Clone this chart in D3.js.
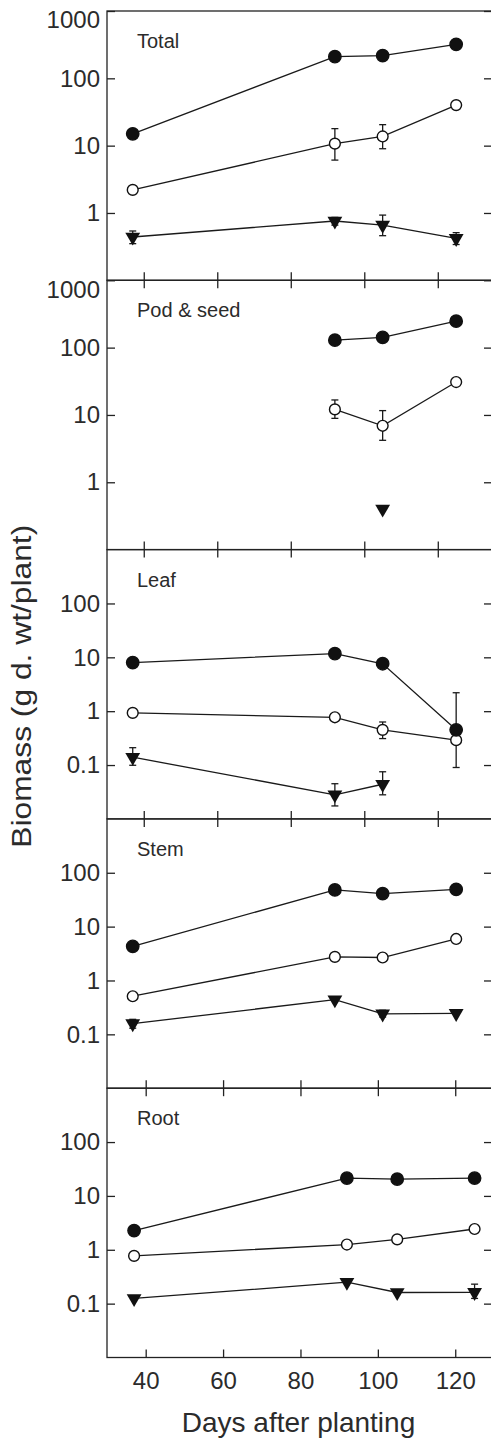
<!DOCTYPE html>
<html>
  <head>
    <meta charset="utf-8">
    <title>Biomass over time</title>
    <style media="screen">
      body {
        margin: 0;
        background: #fff;
      }

      text {
        font-family: "Liberation Sans", Arial, sans-serif;
        font-weight: normal;
        fill: #2b2b2b;
      }

      .frame {
        fill: none;
        stroke: #222;
        stroke-width: 1.3;
      }

      .axis path {
        display: none;
      }

      .axis line {
        stroke: #222;
        stroke-width: 1.3;
      }

      .axis text {
        font-size: 24px;
        fill: #2b2b2b;
      }

      .series {
        fill: none;
        stroke: #1a1a1a;
        stroke-width: 1.3;
      }

      .err line {
        stroke: #1a1a1a;
        stroke-width: 1.3;
      }
    </style>
    <script src="https://cdnjs.cloudflare.com/ajax/libs/d3/7.8.5/d3.min.js"></script>
  </head>
  <body>
    <script type="text/javascript">

      // sampling days (x), same for every panel
      const days = [37, 92, 105, 125];
      const xTicks = [40, 60, 80, 100, 120];
      const yTicksWide = [1, 10, 100, 1000];
      const yTicksNarrow = [0.1, 1, 10, 100];
      const panelNames = ["Total", "Pod & seed", "Leaf", "Stem", "Root"];

      // Total
      const totalFilled = [15, 210, 218, 320];
      const totalOpen = [2.2, 10.7, 13.7, 40];
      const totalOpenErr = [null, [6.1, 17.9], [9.0, 20.5], null];
      const totalTri = [0.44, 0.76, 0.66, 0.42];
      const totalTriErr = [[0.35, 0.54], [0.66, 0.86], [0.46, 0.93], [0.34, 0.51]];

      // Pod & seed
      const podFilled = [null, 129, 142, 247];
      const podOpen = [null, 12.1, 6.9, 30.8];
      const podOpenErr = [null, [8.9, 16.7], [4.2, 11.6], null];
      const podTri = [null, null, 0.40, null];

      // Leaf
      const leafFilled = [8.0, 11.7, 7.6, 0.45];
      const leafFilledErr = [null, null, null, [0.09, 2.2]];
      const leafOpen = [0.93, 0.77, 0.45, 0.29];
      const leafOpenErr = [null, null, [0.31, 0.63], null];
      const leafTri = [0.14, 0.028, 0.044, null];
      const leafTriErr = [[0.099, 0.21], [0.0174, 0.045], [0.028, 0.075], null];

      // Stem
      const stemFilled = [4.3, 48, 41, 49];
      const stemOpen = [0.51, 2.74, 2.67, 5.9];
      const stemTri = [0.158, 0.44, 0.24, 0.245];
      const stemTriErr = [[0.13, 0.19], null, [0.21, 0.28], null];

      // Root
      const rootFilled = [2.27, 21.4, 20.5, 21.4];
      const rootOpen = [0.77, 1.25, 1.56, 2.43];
      const rootTri = [0.125, 0.25, 0.161, 0.162];
      const rootTriErr = [null, null, null, [0.125, 0.23]];

      const width = 491;
      const height = 1439;
      const plot = {left: 107, right: 492, top: 11, bottom: 1357.5};
      const panelH = (plot.bottom - plot.top) / 5;

      // the upper four panels and the root panel were drawn on slightly different x scales
      const xA = d3.scaleLinear().domain([30, 134.75]).range([plot.left, plot.right]);
      const xB = d3.scaleLinear().domain([30, 129.5]).range([plot.left, plot.right]);

      const panels = [
        {name: panelNames[0], min: 0.1, ticks: yTicksWide, x: xA,
          filled: totalFilled, filledErr: null, open: totalOpen, openErr: totalOpenErr, tri: totalTri, triErr: totalTriErr},
        {name: panelNames[1], min: 0.1, ticks: yTicksWide, x: xA,
          filled: podFilled, filledErr: null, open: podOpen, openErr: podOpenErr, tri: podTri, triErr: null},
        {name: panelNames[2], min: 0.01, ticks: yTicksNarrow, x: xA,
          filled: leafFilled, filledErr: leafFilledErr, open: leafOpen, openErr: leafOpenErr, tri: leafTri, triErr: leafTriErr},
        {name: panelNames[3], min: 0.01, ticks: yTicksNarrow, x: xA,
          filled: stemFilled, filledErr: null, open: stemOpen, openErr: null, tri: stemTri, triErr: stemTriErr},
        {name: panelNames[4], min: 0.01, ticks: yTicksNarrow, x: xB,
          filled: rootFilled, filledErr: null, open: rootOpen, openErr: null, tri: rootTri, triErr: rootTriErr}
      ];

      const svg = d3.select('body')
        .append('svg')
          .attr('width', width)
          .attr('height', height);

      const tri = d3.symbol(d3.symbolTriangle, 95);

      panels.forEach((p, i) => {
        const top = plot.top + i * panelH;
        const bottom = top + panelH;
        const y = d3.scaleLog().domain([p.min, 1000]).range([bottom, top]);
        const g = svg.append('g');

        g.append('rect')
          .attr('class', 'frame')
          .attr('x', plot.left)
          .attr('y', top)
          .attr('width', plot.right - plot.left)
          .attr('height', panelH);

        const left = g.append('g')
          .attr('class', 'axis')
          .attr('transform', `translate(${plot.left},0)`)
          .call(d3.axisLeft(y).tickValues(p.ticks).tickFormat(d => String(d))
            .tickSizeInner(-8).tickSizeOuter(0).tickPadding(7));
        left.selectAll('text').filter(d => d === 1000).attr('dy', '0.7em');

        g.append('g')
          .attr('class', 'axis')
          .attr('transform', `translate(${plot.right},0)`)
          .call(d3.axisRight(y).tickValues(p.ticks).tickFormat('')
            .tickSizeInner(-8).tickSizeOuter(0));

        // ticks crossing the shared border with the panel above
        if (i > 0) {
          g.append('g')
            .attr('class', 'axis')
            .attr('transform', `translate(0,${top - 8})`)
            .call(d3.axisBottom(p.x).tickValues(xTicks).tickFormat('')
              .tickSizeInner(16).tickSizeOuter(0));
        }

        g.append('text')
          .attr('x', plot.left + 30)
          .attr('y', top + 37)
          .style('font-size', '20px')
          .text(p.name);

        const series = [
          {vals: p.tri, err: p.triErr, kind: 'tri'},
          {vals: p.open, err: p.openErr, kind: 'open'},
          {vals: p.filled, err: p.filledErr, kind: 'filled'}
        ];

        const line = d3.line()
          .defined(d => d.v != null)
          .x(d => p.x(d.day))
          .y(d => y(d.v));

        series.forEach(s => {
          const pts = days.map((day, j) => ({day: day, v: s.vals[j], e: s.err ? s.err[j] : null}));
          g.append('path')
            .attr('class', 'series')
            .attr('d', line(pts));

          const bars = g.append('g').attr('class', 'err')
            .selectAll('g')
            .data(pts.filter(d => d.e))
            .enter()
            .append('g');
          bars.append('line')
            .attr('x1', d => p.x(d.day)).attr('x2', d => p.x(d.day))
            .attr('y1', d => y(d.e[0])).attr('y2', d => y(d.e[1]));
          [0, 1].forEach(k => {
            bars.append('line')
              .attr('x1', d => p.x(d.day) - 3.5).attr('x2', d => p.x(d.day) + 3.5)
              .attr('y1', d => y(d.e[k])).attr('y2', d => y(d.e[k]));
          });

          s.pts = pts.filter(d => d.v != null);
        });

        series.forEach(s => {
          if (s.kind === 'tri') {
            g.selectAll(null)
              .data(s.pts)
              .enter()
              .append('path')
                .attr('d', tri)
                .attr('fill', '#111')
                .attr('transform', d => `translate(${p.x(d.day)},${y(d.v)}) rotate(180)`);
          } else {
            g.selectAll(null)
              .data(s.pts)
              .enter()
              .append('circle')
                .attr('cx', d => p.x(d.day))
                .attr('cy', d => y(d.v))
                .attr('r', s.kind === 'filled' ? 6.2 : 5.4)
                .attr('fill', s.kind === 'filled' ? '#111' : '#fff')
                .attr('stroke', '#111')
                .attr('stroke-width', 1.4);
          }
        });
      });

      svg.append('g')
        .attr('class', 'axis')
        .attr('transform', `translate(0,${plot.bottom})`)
        .call(d3.axisBottom(xB).tickValues(xTicks).tickSizeInner(-8).tickSizeOuter(0).tickPadding(14));

      svg.append('text')
        .attr('x', (plot.left + plot.right) / 2 - 1)
        .attr('y', 1432)
        .attr('text-anchor', 'middle')
        .style('font-size', '28px')
        .text('Days after planting');

      svg.append('text')
        .attr('transform', `translate(31,${(plot.top + plot.bottom) / 2 + 2}) rotate(-90)`)
        .attr('text-anchor', 'middle')
        .attr('textLength', 323)
        .attr('lengthAdjust', 'spacingAndGlyphs')
        .style('font-size', '27px')
        .text('Biomass (g d. wt/plant)');
    </script>
  </body>
</html>
